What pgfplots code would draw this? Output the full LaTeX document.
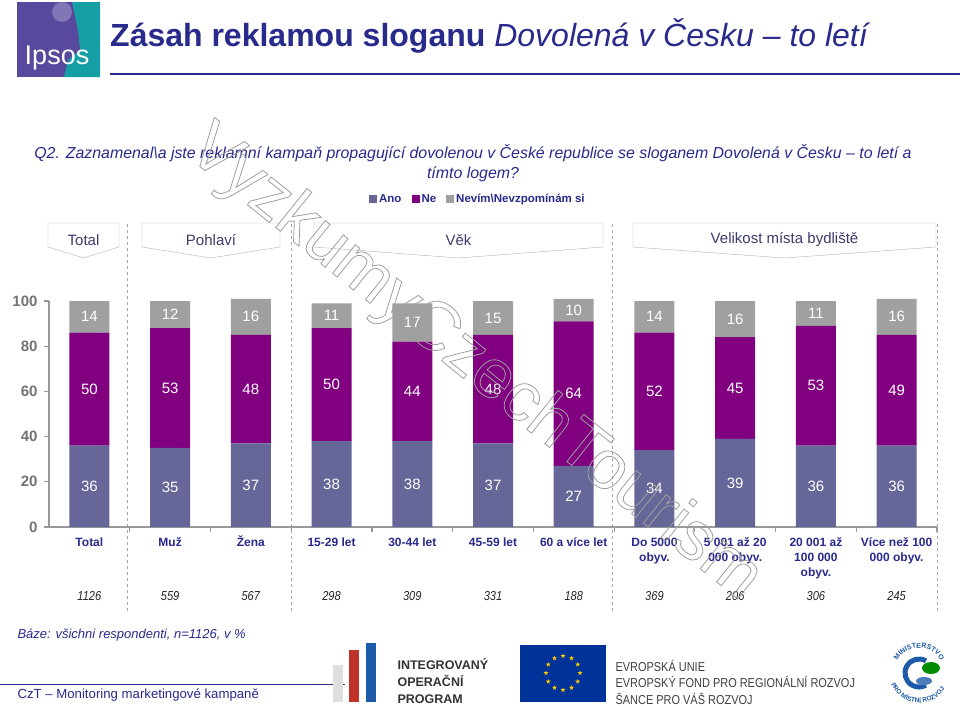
\documentclass[border=0pt]{standalone}
\usepackage{pgfplots}
\pgfplotsset{compat=1.18}
\usepackage{pgfplotstable}
\usepackage{fontspec}
\setmainfont{Liberation Sans}
\newfontfamily\narrow[FakeStretch=0.85]{Liberation Sans}
\usetikzlibrary{shapes.geometric,decorations.text}
\definecolor{ano}{RGB}{102,102,153}
\definecolor{ne}{RGB}{128,0,128}
\definecolor{nev}{RGB}{160,160,160}
\definecolor{dblue}{RGB}{40,42,140}
\definecolor{boxtxt}{RGB}{60,60,110}
\definecolor{ipsP}{RGB}{88,72,158}
\definecolor{ipsT}{RGB}{22,158,165}
\definecolor{euB}{RGB}{0,51,153}
\definecolor{euY}{RGB}{255,204,0}
\definecolor{iopB}{RGB}{30,90,170}
\definecolor{iopR}{RGB}{190,50,40}
\newcommand{\fs}[1]{\fontsize{#1}{#1}\selectfont}
\newcommand{\R}{\rule{0pt}{13pt}}

\pgfplotstableread{
x ano ne nev n
0 36 50 14 1126
1 35 53 12 559
2 37 48 16 567
3 38 50 11 298
4 38 44 17 309
5 37 48 15 331
6 27 64 10 188
7 34 52 14 369
8 39 45 16 206
9 36 53 11 306
10 36 49 16 245
}\data

\begin{document}
\begin{tikzpicture}
\path[use as bounding box, fill=white] (0pt,0pt) rectangle (960pt,-705pt);
\begin{scope}[x=1pt,y=-1pt]
  % Ipsos logo
  \fill[ipsP] (17,2) rectangle (100,77);
  \fill[ipsT] (72,2) -- (100,2) -- (100,77) -- (64,77) -- (68,60) -- (80,50) -- (78,30) -- cycle;
  \fill[ipsP!75!white] (62,12) circle (10);
  \node[text=white, font=\fs{27}] at (57,58) {Ipsos};
  % title
  \node[anchor=west, text=dblue, font=\fs{32}, inner sep=0pt] at (110,36)
    {\bfseries Zásah reklamou sloganu \mdseries\itshape Dovolená v Česku – to letí};
  \draw[dblue, line width=1.2pt] (110,74) -- (960,74);
  % question
  \node[text=dblue, font=\fontsize{15.9}{20}\selectfont\itshape, align=center] at (473,163)
    {Q2. Zaznamenal\textbackslash a jste reklamní kampaň propagující dovolenou v České republice se sloganem Dovolená v Česku – to letí a\\tímto logem?};
  % dashed separators
  \foreach \x in {127,291,612,937}
    \draw[gray!70, dashed, line width=0.6pt] (\x,224) -- (\x,612);
  % header boxes
  \foreach \a/\b/\t in {48/119/Total,142/280/Pohlaví,314/603/Věk,633/936/Velikost místa bydliště}{
    \draw[gray!60, fill=white] (\a,223) -- (\b,223) -- (\b,247) -- ({(\a+\b)/2},258) -- (\a,247) -- cycle;
    \node[text=boxtxt, font=\fs{15}] at ({(\a+\b)/2},240) {\t};
  }
  % base
  \node[anchor=west, text=dblue, font=\fs{13}\itshape] at (14,635) {Báze: všichni respondenti, n=1126, v \%};
  % footer
  \draw[dblue, line width=1pt] (0,684) -- (345,684);
  \node[anchor=west, text=dblue, font=\fs{13.2}] at (14,695) {CzT – Monitoring marketingové kampaně};
  % IOP logo
  \fill[gray!25] (333,665) rectangle (343,702);
  \fill[iopR] (349,650) rectangle (359,702);
  \fill[iopB] (366,643) rectangle (376,702);
  \node[anchor=west, font=\fontsize{12.5}{17}\selectfont\bfseries, text=black!80, align=left] at (394,681)
    {INTEGROVANÝ\\OPERAČNÍ\\PROGRAM};
  % EU flag
  \fill[euB] (520,645) rectangle (606,702);
  \foreach \i in {0,...,11}
    \node[star, star points=5, star point ratio=2.4, fill=euY, inner sep=0pt, minimum size=5pt]
      at ({563+17*cos(30*\i)},{673+17*sin(30*\i)}) {};
  \node[anchor=west, font=\narrow\fontsize{12.9}{16.5}\selectfont, text=black!75, align=left] at (612,682)
    {EVROPSKÁ UNIE\\EVROPSKÝ FOND PRO REGIONÁLNÍ ROZVOJ\\ŠANCE PRO VÁŠ ROZVOJ};
\end{scope}
% Ministry logo
\fill[white] (919pt,-673pt) circle (31pt);
\draw[iopB, line width=5pt] (919pt,-673pt) ++(60:14pt) arc[start angle=60, end angle=300, radius=14pt];
\fill[green!55!black] (931pt,-668pt) ellipse (9pt and 6pt);
\fill[iopB!80] (924pt,-681pt) ellipse (8pt and 4pt);
\path[decorate, decoration={text along path, text={|\fs{7}\bfseries\color{iopB}|MINISTERSTVO}, text align=center}]
  (919pt,-673pt) ++(160:25pt) arc[start angle=160, end angle=20, radius=25pt];
\path[decorate, decoration={text along path, text={|\fs{6.5}\bfseries\color{iopB}|PRO MÍSTNÍ ROZVOJ}, text align=center}]
  (919pt,-673pt) ++(175:30pt) arc[start angle=175, end angle=355, radius=30pt];

\begin{axis}[
  at={(49pt,-527pt)}, anchor=south west,
  scale only axis, width=888pt, height=226pt,
  xmin=-0.5, xmax=10.5, ymin=0, ymax=100,
  clip=false,
  ybar stacked, bar width=40pt,
  axis x line*=bottom, axis y line*=left,
  axis line style={draw=gray!80, line width=1.3pt, -},
  tick align=outside,
  major tick length=5pt,
  tick style={draw=gray!80, line width=1.2pt},
  ytick={0,20,...,100},
  yticklabel style={font=\fs{15}\bfseries, text=gray!90!black, xshift=-3pt},
  /pgf/number format/assume math mode=true,
  xtick={0.5,1.5,...,10.5},
  xticklabels={},
  extra x ticks={0,...,10},
  extra x tick labels={{\R Total\\\mbox{}},{\R Muž\\\mbox{}},{\R Žena\\\mbox{}},{\R 15-29 let\\\mbox{}},{\R 30-44 let\\\mbox{}},{\R 45-59 let\\\mbox{}},{\R 60 a více let\\\mbox{}},{\R Do 5000\\obyv.},{\R 5 001 až 20\\000 obyv.},{\R 20 001 až\\100 000\\obyv.},{\R Více než 100\\000 obyv.}},
  extra x tick style={major tick length=0pt,
    xticklabel style={font=\fontsize{12}{15}\selectfont\bfseries, text=dblue, align=center, anchor=north,
      yshift=-3.1pt}},
  legend style={at={(0.483,1.451)}, anchor=center, draw=none, fill=none,
    font=\fs{11.5}\bfseries, text=dblue,
    /tikz/every even column/.append style={column sep=8pt}},
  legend columns=3,
  legend image code/.code={\fill[#1] (0pt,-4pt) rectangle (8pt,4pt);},
]
\addplot[fill=ano, draw=none] table[x=x, y=ano]{\data};
\addplot[fill=ne, draw=none] table[x=x, y=ne]{\data};
\addplot[fill=nev, draw=none] table[x=x, y=nev]{\data};
\legend{Ano, Ne, Nevím\textbackslash Nevzpomínám si}
\end{axis}

\begin{axis}[
  at={(49pt,-527pt)}, anchor=south west,
  scale only axis, width=888pt, height=226pt,
  xmin=-0.5, xmax=10.5, ymin=0, ymax=100,
  axis lines=none, clip=false,
  /pgf/number format/assume math mode=true,
  nodes near coords, point meta=explicit,
  every node near coord/.append style={anchor=center, text=white, font=\fs{15}},
]
\addplot[draw=none, mark=none] table[x=x, y expr=\thisrow{ano}/2, meta=ano]{\data};
\addplot[draw=none, mark=none] table[x=x, y expr=\thisrow{ano}+\thisrow{ne}/2, meta=ne]{\data};
\addplot[draw=none, mark=none] table[x=x, y expr=\thisrow{ano}+\thisrow{ne}+\thisrow{nev}/2, meta=nev]{\data};
\addplot[draw=none, mark=none, /pgf/number format/set thousands separator={},
  every node near coord/.append style={text=black!85, font=\narrow\fs{13}\itshape}]
  table[x=x, y expr=-30.5, meta=n]{\data};
\end{axis}

\begin{scope}[x=1pt,y=-1pt]
  \node[rotate=-38.8, text=gray!75, font=\fs{69}] at (474,364)
    {\special{pdf:literal direct 1 Tr 0.8 w}VyzkumyCzechTourism\special{pdf:literal direct 0 Tr}};
\end{scope}
\end{tikzpicture}
\end{document}
